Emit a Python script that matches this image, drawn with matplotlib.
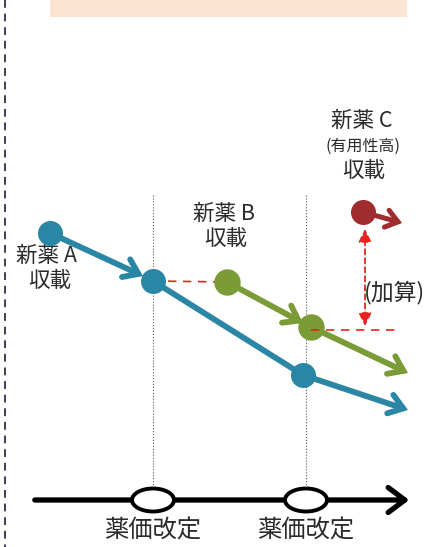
import numpy as np
import matplotlib.pyplot as plt
from matplotlib.patches import Ellipse, Rectangle, FancyArrowPatch

plt.rcParams['font.family'] = ['Noto Sans CJK JP', 'DejaVu Sans']

# pixel-like coordinates of the schematic (x to the right, y downward)
revision_x = [153, 306]
revision_label = "薬価改定"

drug_a_x = [50, 153, 303]
drug_a_y = [233, 281, 375]
drug_a_end = (408, 410)

drug_b_x = [227, 311]
drug_b_y = [282, 327]
drug_b_end = (408, 373)

drug_c_xy = (363, 212)
drug_c_end = (402, 223)

blue = "#2a86a5"
green = "#7a9b35"
darkred = "#a12c30"
red = "#e8231f"
txt = "#2b2b2b"

fig = plt.figure(figsize=(4.31, 5.47), dpi=100)
ax = fig.add_axes([0, 0, 1, 1])
ax.set_xlim(0, 431)
ax.set_ylim(547, 0)
ax.axis("off")

# top box (cut off) and left dashed border
ax.add_patch(Rectangle((50, -5), 357, 22, facecolor="#fbe4d2", edgecolor="none"))
ax.plot([5, 5], [0, 547], color="#3c3f55", lw=1.4, ls=(0, (4, 3)))

# revision guides
for x in revision_x:
    ax.plot([x, x], [195, 492], color="#555555", lw=0.8, ls=":")

# timeline
ax.add_patch(FancyArrowPatch((32, 500), (412, 500), arrowstyle="->,head_length=8,head_width=6",
                             lw=3.8, color="black", mutation_scale=1.5, zorder=3))
for x in revision_x:
    ax.add_patch(Ellipse((x, 500), 42, 23, facecolor="white", edgecolor="black", lw=2.8, zorder=4))
    ax.text(x, 531, revision_label, ha="center", va="center", fontsize=17.5, color=txt)

def arrow(p0, p1, color, lw=4.2, hl=7, hw=5):
    ax.add_patch(FancyArrowPatch(p0, p1, arrowstyle=f"->,head_length={hl},head_width={hw}",
                                 lw=lw, color=color, mutation_scale=1.4, zorder=5,
                                 shrinkA=0, shrinkB=0, capstyle="round", joinstyle="miter"))

# red dashed reference lines
ax.plot([drug_a_x[1], drug_b_x[0]], [drug_a_y[1], drug_b_y[0]], color=red, lw=1.2, ls=(0, (5, 4)), zorder=4)
ax.plot([drug_b_x[1], 398], [drug_b_y[1] + 3, drug_b_y[1] + 3], color=red, lw=1.2, ls=(0, (5, 4)), zorder=7)

# drug A
arrow((drug_a_x[0], drug_a_y[0]), (drug_a_x[1] - 10, drug_a_y[1] - 5), blue)
ax.plot(drug_a_x[1:], drug_a_y[1:], color=blue, lw=4.2, zorder=5)
arrow((drug_a_x[2], drug_a_y[2]), drug_a_end, blue)
ax.plot(drug_a_x, drug_a_y, "o", color=blue, ms=17, zorder=6)

# drug B
arrow((drug_b_x[0], drug_b_y[0]), (drug_b_x[1] - 8, drug_b_y[1] - 4), green)
arrow((drug_b_x[1], drug_b_y[1]), drug_b_end, green)
ax.plot(drug_b_x, drug_b_y, "o", color=green, ms=18, zorder=6)

# drug C
arrow(drug_c_xy, drug_c_end, darkred, lw=3.6, hl=6, hw=4.5)
ax.plot(*drug_c_xy, "o", color=darkred, ms=17, zorder=6)

# premium arrow
ax.add_patch(FancyArrowPatch((365, 229), (365, 326), arrowstyle="<|-|>,head_length=6,head_width=3",
                             lw=1.3, ls=(0, (3, 2)), color=red, mutation_scale=1.3, zorder=6,
                             shrinkA=0, shrinkB=0))

# labels
ax.text(47, 256, "新薬 A", ha="center", va="center", fontsize=15.5, color=txt)
ax.text(50, 281, "収載", ha="center", va="center", fontsize=15.5, color=txt)
ax.text(224, 214, "新薬 B", ha="center", va="center", fontsize=15.5, color=txt)
ax.text(226, 239, "収載", ha="center", va="center", fontsize=15.5, color=txt)
ax.text(362, 121, "新薬 C", ha="center", va="center", fontsize=15.5, color=txt)
ax.text(363, 146, "(有用性高)", ha="center", va="center", fontsize=11.5, color=txt)
ax.text(364, 171, "収載", ha="center", va="center", fontsize=15.5, color=txt)
ax.text(364, 293, "(加算)", ha="left", va="center", fontsize=16.5, color=txt)

fig.savefig("out.png", dpi=100)
